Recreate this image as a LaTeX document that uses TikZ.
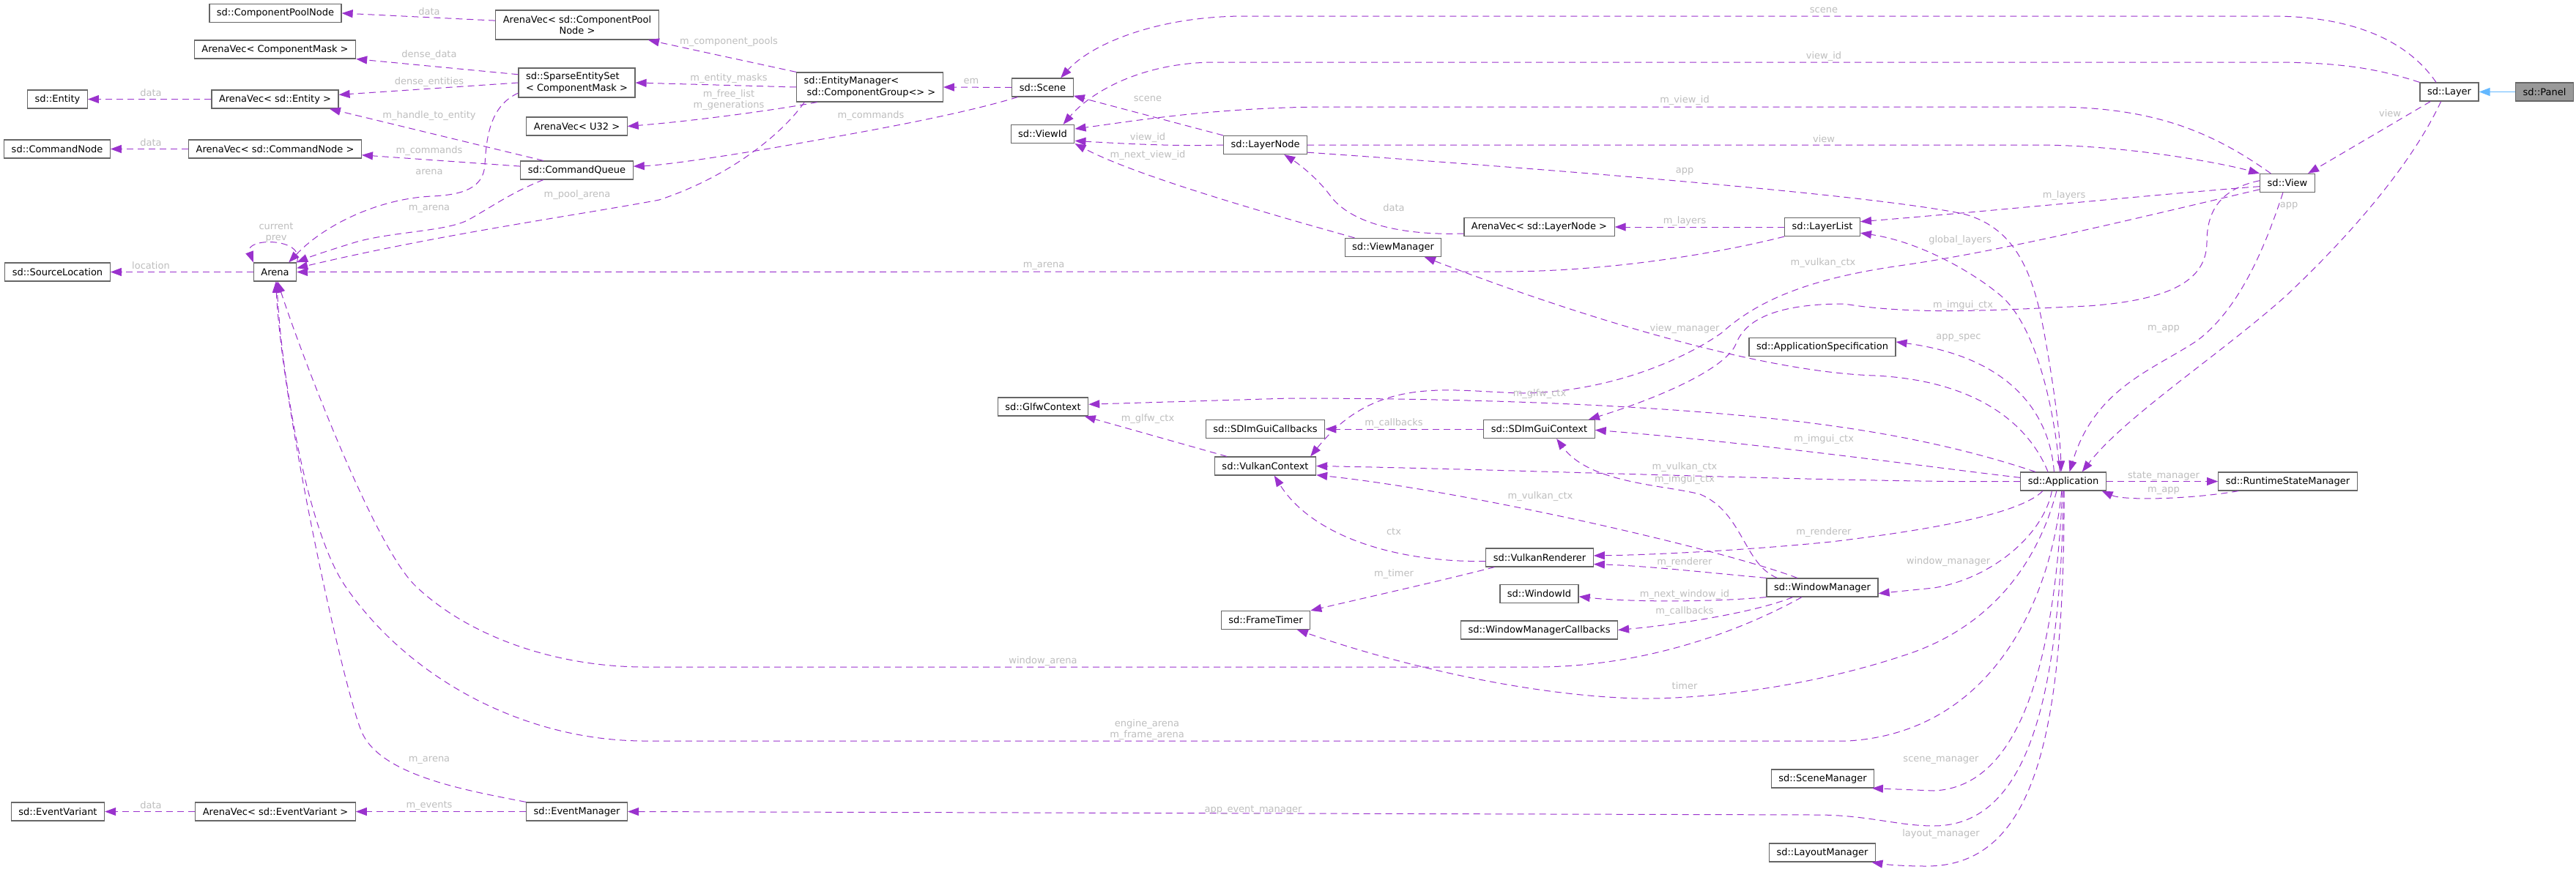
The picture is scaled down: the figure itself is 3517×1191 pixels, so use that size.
\documentclass[tikz,border=0pt]{standalone}
\usepackage{fontspec}
\setmainfont{DejaVu Sans}
\usetikzlibrary{arrows.meta}
\definecolor{DoxBorde}{HTML}{666666}
\definecolor{DoxActual}{HTML}{999999}
\definecolor{DoxUso}{HTML}{9A32CD}
\definecolor{DoxHereda}{HTML}{63B8FF}
\definecolor{DoxEtiqueta}{HTML}{BEBEBE}
\tikzset{
  clase/.style={draw=DoxBorde, fill=white, line width=1.2pt, inner xsep=10pt, inner ysep=2pt,
                minimum height=25pt, font=\fontsize{13pt}{15.5pt}\selectfont},
  doble/.style={minimum height=40pt},
  actual/.style={clase, fill=DoxActual},
  uso/.style={DoxUso, line width=1pt, dash pattern=on 9pt off 6pt, -{Triangle[length=15pt,width=11pt]}},
  herencia/.style={DoxHereda, line width=1.5pt, -{Triangle[length=15pt,width=11pt]}},
  etiqueta/.style={text=DoxEtiqueta, font=\fontsize{13pt}{15pt}\selectfont, inner sep=0pt, align=center},
}

\begin{document}
\begin{tikzpicture}[x=1pt, y=-1pt]
  \path[use as bounding box, fill=white] (0,0) rectangle (3517,1191);

  % clases
  \node[clase] (cpn) at (376,18) {sd::ComponentPoolNode};
  \node[clase, doble, align=center] (avcpn) at (788,34) {ArenaVec< sd::ComponentPool\\Node >};
  \node[clase] (avcm) at (375.5,67.5) {ArenaVec< ComponentMask >};
  \node[clase, doble, align=left] (ses) at (787.5,113) {sd::SparseEntitySet\\< ComponentMask >};
  \node[clase] (ent) at (78.5,135.5) {sd::Entity};
  \node[clase] (avent) at (375.5,135.5) {ArenaVec< sd::Entity >};
  \node[clase] (avu32) at (787.5,172.5) {ArenaVec< U32 >};
  \node[clase] (cmdn) at (78,203.5) {sd::CommandNode};
  \node[clase] (avcmd) at (375.5,203.5) {ArenaVec< sd::CommandNode >};
  \node[clase] (cq) at (787.5,232.5) {sd::CommandQueue};
  \node[clase] (arena) at (375.5,371.5) {Arena};
  \node[clase] (srcloc) at (78.5,371.5) {sd::SourceLocation};
  \node[clase, doble, align=left] (em) at (1187.5,119) {sd::EntityManager<\\\hspace*{4pt}sd::ComponentGroup<> >};
  \node[clase] (scene) at (1423.5,119.5) {sd::Scene};
  \node[clase] (viewid) at (1423.5,183) {sd::ViewId};
  \node[clase] (lnode) at (1727.5,198) {sd::LayerNode};
  \node[clase] (avln) at (2101.5,310) {ArenaVec< sd::LayerNode >};
  \node[clase] (vm) at (1902,338) {sd::ViewManager};
  \node[clase] (llist) at (2488,310) {sd::LayerList};
  \node[clase] (layer) at (3344,125.5) {sd::Layer};
  \node[actual] (panel) at (3474,125.5) {sd::Panel};
  \node[clase] (view) at (3123,250) {sd::View};
  \node[clase] (glfw) at (1424,555.5) {sd::GlfwContext};
  \node[clase] (imcb) at (1727.5,586) {sd::SDImGuiCallbacks};
  \node[clase] (vkctx) at (1727.5,636.5) {sd::VulkanContext};
  \node[clase] (imctx) at (2101.5,586) {sd::SDImGuiContext};
  \node[clase] (appspec) at (2488,474) {sd::ApplicationSpecification};
  \node[clase] (vkr) at (2102,761.5) {sd::VulkanRenderer};
  \node[clase] (wm) at (2488,802.5) {sd::WindowManager};
  \node[clase] (winid) at (2101.5,811) {sd::WindowId};
  \node[clase] (wmcb) at (2101.5,860.5) {sd::WindowManagerCallbacks};
  \node[clase] (ftimer) at (1728,847) {sd::FrameTimer};
  \node[clase] (scm) at (2488.5,1063.5) {sd::SceneManager};
  \node[clase] (lm) at (2488,1164.5) {sd::LayoutManager};
  \node[clase] (app) at (2817,657.5) {sd::Application};
  \node[clase] (rsm) at (3123.5,657.5) {sd::RuntimeStateManager};
  \node[clase] (evv) at (79,1108.5) {sd::EventVariant};
  \node[clase] (avev) at (376,1108.5) {ArenaVec< sd::EventVariant >};
  \node[clase] (evm) at (787.5,1108.5) {sd::EventManager};

  % herencia
  \draw[herencia] (panel.west) -- (layer.east);

  % entidades y arenas
  \draw[uso] (avcpn.177) -- (cpn.east) node[etiqueta] at (586,16) {data};
  \draw[uso] (em.north west) -- (avcpn.-12) node[etiqueta] at (995,57) {m\_component\_pools};
  \draw[uso] (ses.172) -- (avcm.south east) node[etiqueta] at (586,75) {dense\_data};
  \draw[uso] (ses.west) -- (avent.4) node[etiqueta] at (586,112) {dense\_entities};
  \draw[uso] (avent.west) -- (ent.east) node[etiqueta] at (206,127) {data};
  \draw[uso] (cq.164) -- (avent.-10) node[etiqueta] at (586,158) {m\_handle\_to\_entity};
  \draw[uso] (avcmd.west) -- (cmdn.east) node[etiqueta] at (206,195) {data};
  \draw[uso] (cq.176) -- (avcmd.-4) node[etiqueta] at (586,206) {m\_commands};
  \draw[uso] (ses.190) .. controls (668,145) and (664,190) .. (662,225)
    .. controls (660,258) and (630,266) .. (590,268)
    .. controls (520,271) and (445,305) .. (arena.35) node[etiqueta] at (586,235) {arena};
  \draw[uso] (cq.196) .. controls (700,262) and (672,282) .. (640,300)
    .. controls (610,316) and (540,316) .. (488,330)
    .. controls (455,340) and (425,350) .. (arena.north east) node[etiqueta] at (586,285) {m\_arena};
  \draw[uso] (em.193) .. controls (1070,180) and (1000,240) .. (900,273)
    .. controls (800,292) and (600,320) .. (arena.10) node[etiqueta] at (788,266) {m\_pool\_arena};
  \draw[uso] (arena.north east) .. controls (418,324) and (333,324) .. (arena.north west)
    node[etiqueta] at (377,318) {current\\prev};
  \draw[uso] (arena.west) -- (srcloc.east) node[etiqueta] at (206,363) {location};
  \draw[uso] (em.west) -- (ses.east) node[etiqueta] at (995,107) {m\_entity\_masks};
  \draw[uso] (em.196) .. controls (1060,150) and (950,165) .. (avu32.east)
    node[etiqueta] at (995,137) {m\_free\_list\\m\_generations};
  \draw[uso] (scene.west) -- (em.east) node[etiqueta] at (1326,111) {em};
  \draw[uso] (scene.201) .. controls (1300,160) and (1150,185) .. (1050,203)
    .. controls (960,218) and (900,226) .. (cq.4) node[etiqueta] at (1189,158) {m\_commands};

  % escenas, capas y vistas
  \draw[uso] (layer.144) .. controls (3290,60) and (3220,22) .. (3100,22) -- (1700,22)
    .. controls (1580,22) and (1490,60) .. (scene.28) node[etiqueta] at (2490,14) {scene};
  \draw[uso] (layer.north west) .. controls (3250,95) and (3200,85) .. (3100,85) -- (1660,85)
    .. controls (1560,85) and (1490,125) .. (viewid.25) node[etiqueta] at (2490,77) {view\_id};
  \draw[uso] (view.150) .. controls (3020,180) and (2940,146) .. (2800,146) -- (1800,146)
    .. controls (1650,148) and (1550,165) .. (viewid.9) node[etiqueta] at (2300,137) {m\_view\_id};
  \draw[uso] (lnode.north west) -- (scene.-15) node[etiqueta] at (1567,135) {scene};
  \draw[uso] (lnode.west) .. controls (1600,200) and (1530,196) .. (viewid.-12)
    node[etiqueta] at (1567,188) {view\_id};
  \draw[uso] (vm.166) .. controls (1780,305) and (1560,245) .. (viewid.south east)
    node[etiqueta] at (1567,212) {m\_next\_view\_id};
  \draw[uso] (lnode.east) -- (2780,198) .. controls (2900,198) and (3030,222) .. (view.north west)
    node[etiqueta] at (2490,190) {view};
  \draw[uso] (lnode.-10) .. controls (2100,230) and (2550,265) .. (2680,292)
    .. controls (2750,310) and (2775,370) .. (2790,450)
    .. controls (2805,530) and (2813,600) .. (app.103) node[etiqueta] at (2300,234) {app};
  \draw[uso] (avln.185) .. controls (1900,322) and (1840,300) .. (1816,267)
    .. controls (1800,245) and (1775,225) .. (lnode.-27) node[etiqueta] at (1903,284) {data};
  \draw[uso] (llist.west) -- (avln.east) node[etiqueta] at (2300,302) {m\_layers};
  \draw[uso] (view.187) .. controls (2950,265) and (2700,290) .. (llist.8)
    node[etiqueta] at (2818,267) {m\_layers};
  \draw[uso] (app.110) .. controls (2805,560) and (2780,440) .. (2727,400)
    .. controls (2690,370) and (2620,330) .. (llist.-9) node[etiqueta] at (2676,328) {global\_layers};
  \draw[uso] (llist.south west) .. controls (2350,345) and (2200,371) .. (2050,371) -- (arena.east)
    node[etiqueta] at (1425,363) {m\_arena};
  \draw[uso] (layer.207) -- (view.25) node[etiqueta] at (3263,155) {view};
  \draw[uso] (layer.-131) .. controls (3290,230) and (3200,330) .. (3120,405)
    .. controls (3030,485) and (2900,570) .. (app.27) node[etiqueta] at (3125,281) {app};
  \draw[uso] (view.-115) .. controls (3095,330) and (3060,420) .. (3000,465)
    .. controls (2940,505) and (2860,530) .. (app.57) node[etiqueta] at (2954,449) {m\_app};
  \draw[uso] (view.175) .. controls (3030,258) and (3013,290) .. (3013,330)
    .. controls (3013,385) and (2960,410) .. (2850,418)
    .. controls (2750,422) and (2620,432) .. (2518,415)
    .. controls (2440,415) and (2385,430) .. (2370,470)
    .. controls (2355,505) and (2260,545) .. (imctx.11) node[etiqueta] at (2680,417) {m\_imgui\_ctx};
  \draw[uso] (view.193) .. controls (2950,290) and (2750,340) .. (2600,362)
    .. controls (2470,380) and (2400,410) .. (2350,455)
    .. controls (2300,490) and (2200,535) .. (2080,537)
    .. controls (1980,535) and (1880,510) .. (vkctx.12) node[etiqueta] at (2489,359) {m\_vulkan\_ctx};

  % aplicacion
  \draw[uso] (app.east) -- (rsm.west) node[etiqueta] at (2954,650) {state\_manager};
  \draw[uso] (rsm.191) .. controls (2990,682) and (2900,684) .. (app.-14)
    node[etiqueta] at (2954,670) {m\_app};
  \draw[uso] (app.134) .. controls (2800,580) and (2760,490) .. (appspec.4)
    node[etiqueta] at (2674,461) {app\_spec};
  \draw[uso] (app.148) .. controls (2770,580) and (2700,520) .. (2560,513)
    .. controls (2400,508) and (2150,430) .. (vm.-17) node[etiqueta] at (2300,449) {view\_manager};
  \draw[uso] (app.161) .. controls (2720,625) and (2620,595) .. (2450,575)
    .. controls (2250,552) and (2000,544) .. (1760,544) -- (glfw.3)
    node[etiqueta] at (2102,538) {m\_glfw\_ctx};
  \draw[uso] (vkctx.166) -- (glfw.-13) node[etiqueta] at (1567,572) {m\_glfw\_ctx};
  \draw[uso] (imctx.west) -- (imcb.east) node[etiqueta] at (1903,578) {m\_callbacks};
  \draw[uso] (app.175) .. controls (2650,640) and (2400,605) .. (imctx.-1)
    node[etiqueta] at (2490,600) {m\_imgui\_ctx};
  \draw[uso] (app.west) .. controls (2550,660) and (2100,642) .. (vkctx.east)
    node[etiqueta] at (2300,638) {m\_vulkan\_ctx};
  \draw[uso] (app.205) .. controls (2760,700) and (2650,722) .. (2500,740)
    .. controls (2380,752) and (2250,758) .. (vkr.2) node[etiqueta] at (2490,727) {m\_renderer};
  \draw[uso] (app.220) .. controls (2790,730) and (2720,790) .. (2640,803) -- (wm.-6)
    node[etiqueta] at (2660,767) {window\_manager};
  \draw[uso] (app.235) .. controls (2790,740) and (2740,850) .. (2600,895)
    .. controls (2480,935) and (2340,955) .. (2237,954)
    .. controls (2080,950) and (1900,905) .. (ftimer.-17) node[etiqueta] at (2300,937) {timer};
  \draw[uso] (app.-100) .. controls (2800,820) and (2720,1000) .. (2523,1012) -- (880,1012)
    .. controls (720,1012) and (560,930) .. (471,800)
    .. controls (420,725) and (385,520) .. (arena.-80)
    node[etiqueta] at (1566,997) {engine\_arena\\m\_frame\_arena};
  \draw[uso] (app.-95) .. controls (2805,900) and (2760,1075) .. (2640,1080) -- (scm.-11)
    node[etiqueta] at (2650,1038) {scene\_manager};
  \draw[uso] (app.-88) .. controls (2812,950) and (2770,1128) .. (2640,1128)
    .. controls (2590,1128) and (2550,1113) .. (2480,1113) -- (evm.east)
    node[etiqueta] at (1711,1106) {app\_event\_manager};
  \draw[uso] (app.-85) .. controls (2818,1000) and (2780,1183) .. (2630,1183)
    .. controls (2590,1183) and (2570,1180) .. (lm.-11) node[etiqueta] at (2650,1139) {layout\_manager};

  % ventanas y render
  \draw[uso] (wm.south west) .. controls (2330,823) and (2220,822) .. (winid.-4)
    node[etiqueta] at (2300,812) {m\_next\_window\_id};
  \draw[uso] (wm.198) .. controls (2400,835) and (2300,852) .. (wmcb.east)
    node[etiqueta] at (2300,835) {m\_callbacks};
  \draw[uso] (wm.north west) .. controls (2330,782) and (2250,773) .. (vkr.-7)
    node[etiqueta] at (2300,768) {m\_renderer};
  \draw[uso] (wm.159) .. controls (2350,750) and (2000,670) .. (vkctx.-10)
    node[etiqueta] at (2103,678) {m\_vulkan\_ctx};
  \draw[uso] (wm.168) .. controls (2380,770) and (2380,700) .. (2321,675)
    .. controls (2270,662) and (2170,660) .. (imctx.-29) node[etiqueta] at (2300,655) {m\_imgui\_ctx};
  \draw[uso] (vkr.184) .. controls (1900,768) and (1790,730) .. (vkctx.-47)
    node[etiqueta] at (1903,726) {ctx};
  \draw[uso] (vkr.192) .. controls (1960,795) and (1870,815) .. (ftimer.north east)
    node[etiqueta] at (1903,784) {m\_timer};
  \draw[uso] (wm.205) .. controls (2380,860) and (2250,910) .. (2100,911) -- (880,911)
    .. controls (760,911) and (640,870) .. (567,800)
    .. controls (510,745) and (410,480) .. (arena.-75) node[etiqueta] at (1424,903) {window\_arena};

  % eventos
  \draw[uso] (evm.west) -- (avev.east) node[etiqueta] at (586,1100) {m\_events};
  \draw[uso] (avev.west) -- (evv.east) node[etiqueta] at (206,1100) {data};
  \draw[uso] (evm.north west) .. controls (640,1080) and (520,1060) .. (494,1000)
    .. controls (470,945) and (385,560) .. (arena.-85) node[etiqueta] at (586,1038) {m\_arena};
\end{tikzpicture}
\end{document}
